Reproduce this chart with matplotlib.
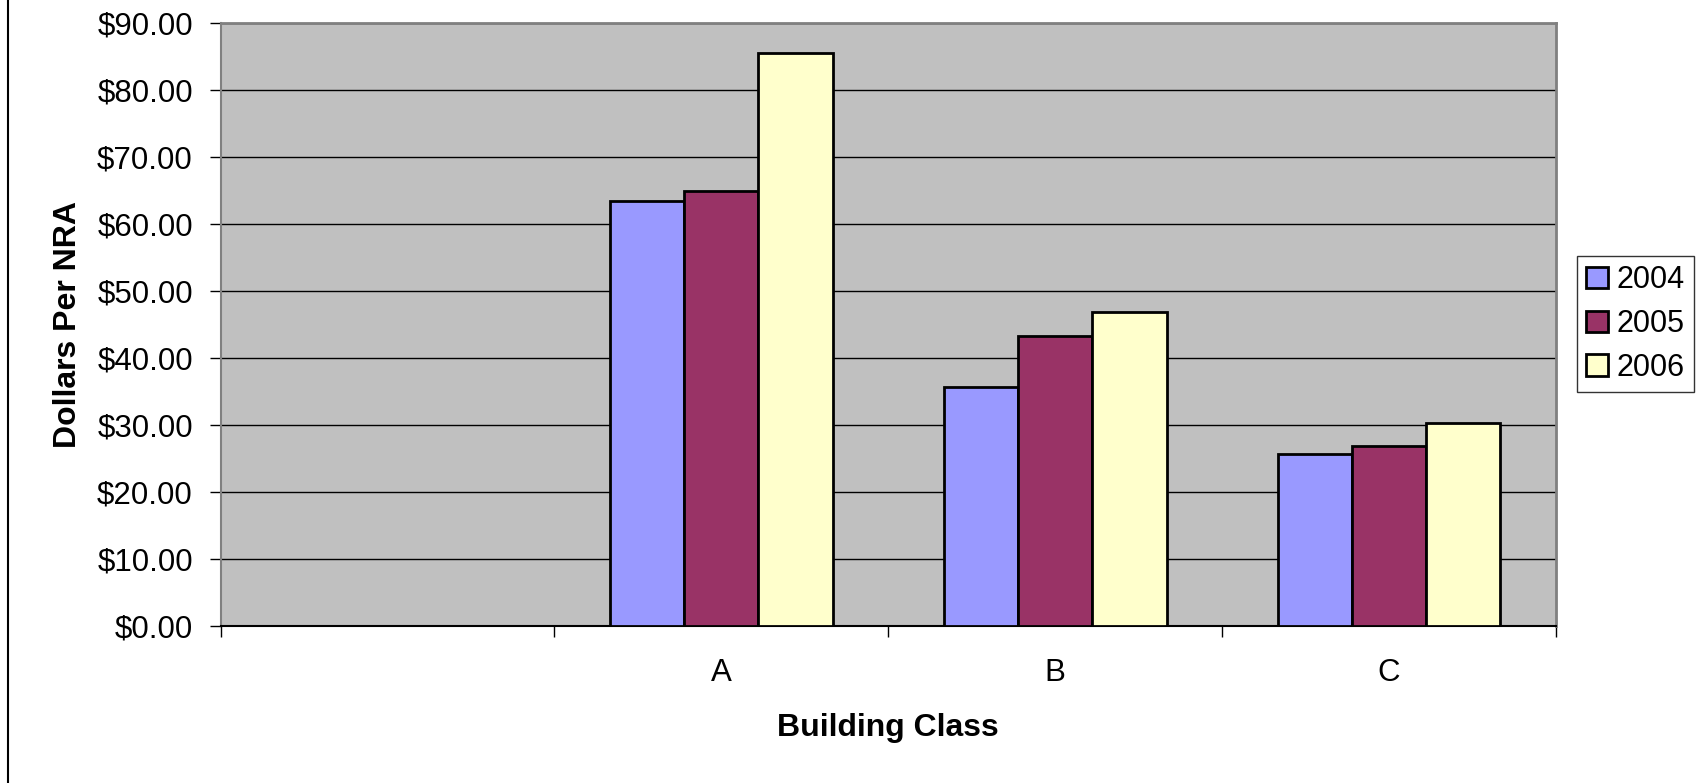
import numpy as np
import matplotlib.pyplot as plt
from matplotlib.lines import Line2D

plt.rcParams['font.family'] = ['Liberation Sans', 'DejaVu Sans']

# data
categories = ['', 'A', 'B', 'C']
years = ['2004', '2005', '2006']
v2004 = [np.nan, 63.43, 35.74, 25.75]
v2005 = [np.nan, 64.87, 43.34, 26.90]
v2006 = [np.nan, 85.45, 46.83, 30.28]
colors = ['#9999FF', '#993366', '#FFFFCC']

fig = plt.figure(figsize=(17.05, 7.83), dpi=100)
ax = fig.add_axes([0.1294, 0.2, 0.7832, 0.7709])
ax.set_facecolor('#C0C0C0')

x = np.arange(len(categories))
w = 1 / 4.5
for i, (vals, c, yr) in enumerate(zip([v2004, v2005, v2006], colors, years)):
    ax.bar(x + (i - 1) * w, vals, width=w, color=c, edgecolor='black',
           linewidth=2, label=yr, zorder=3)

ax.set_xlim(-0.5, len(categories) - 0.5)
ax.set_ylim(0, 90)
ax.set_yticks(np.arange(0, 91, 10))
ax.set_yticklabels(['$%.2f' % v for v in np.arange(0, 91, 10)], fontsize=22.5)
ax.yaxis.grid(True, color='black', linewidth=1, zorder=1)

# tick marks between categories, labels at centres
ax.set_xticks(np.arange(-0.5, len(categories), 1))
ax.set_xticklabels([])
ax.set_xticks(x, minor=True)
ax.set_xticklabels(categories, minor=True, fontsize=22.5)
ax.tick_params(axis='x', which='minor', length=0, pad=23)
ax.tick_params(axis='x', which='major', length=8, width=1, direction='out')
ax.tick_params(axis='y', length=8, width=1, direction='out', pad=12)

for s in ['top', 'right']:
    ax.spines[s].set_color('#808080')
    ax.spines[s].set_linewidth(2)
ax.spines['left'].set_color('#808080')
ax.spines['left'].set_linewidth(1.5)
ax.spines['bottom'].set_color('black')
ax.spines['bottom'].set_linewidth(1.5)

ax.set_xlabel('Building Class', fontsize=23, fontweight='bold', labelpad=18)
ax.set_ylabel('Dollars Per NRA', fontsize=23, fontweight='bold', labelpad=10)

leg = fig.legend(loc='upper left', bbox_to_anchor=(0.925, 0.673), fontsize=22,
                 frameon=True, fancybox=False, edgecolor='black',
                 handlelength=0.7, handleheight=0.7, handletextpad=0.3,
                 labelspacing=0.45, borderpad=0.3, borderaxespad=0)
leg.get_frame().set_linewidth(1)

fig.add_artist(Line2D([8 / 1705, 8 / 1705], [0, 1], color='black', linewidth=1.5))

fig.savefig('out.png', dpi=100)
